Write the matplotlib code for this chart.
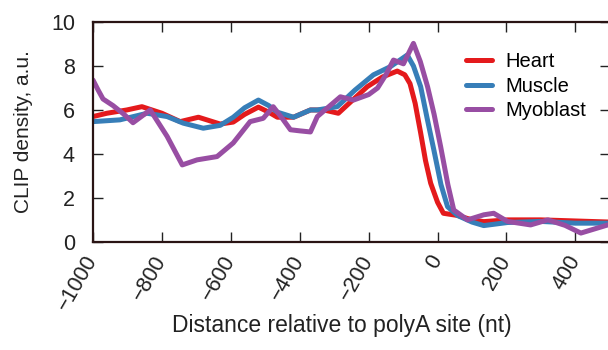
import matplotlib.pyplot as plt
import numpy as np

plt.rcParams['font.family'] = ['Liberation Sans', 'DejaVu Sans']

# Heart
heart_x = [-1000, -960, -902, -858, -800, -747, -694, -631, -593, -560, -520, -490,
           -465, -418, -369, -330, -288, -250, -204, -160, -117, -95, -80, -65, -49,
           -35, -20, 0, 17, 58, 100, 134, 203, 300, 400, 500]
heart_y = [5.7, 5.85, 6.0, 6.15, 5.85, 5.47, 5.67, 5.36, 5.45, 5.8, 6.13, 5.9,
           5.67, 5.67, 6.0, 6.0, 5.85, 6.4, 7.06, 7.5, 7.77, 7.6, 7.2, 6.3, 4.95,
           3.7, 2.67, 1.8, 1.3, 1.2, 1.0, 0.92, 1.0, 1.0, 0.95, 0.9]

# Muscle
muscle_x = [-1000, -922, -843, -785, -738, -680, -631, -593, -560, -520, -490,
            -465, -418, -369, -349, -291, -240, -186, -137, -88, -70, -49, -30,
            -11, 10, 29, 58, 100, 134, 203, 299, 400, 500]
muscle_y = [5.47, 5.55, 5.85, 5.7, 5.4, 5.17, 5.3, 5.67, 6.1, 6.45, 6.2,
            5.9, 5.67, 6.0, 6.0, 6.15, 6.9, 7.6, 7.97, 8.5, 8.0, 7.06, 5.6,
            4.2, 2.6, 1.6, 1.2, 0.9, 0.74, 0.88, 0.93, 0.85, 0.85]

# Myoblast
myo_x = [-1000, -985, -971, -942, -910, -884, -834, -785, -741, -698, -640, -593,
         -544, -506, -477, -450, -427, -400, -369, -349, -282, -244, -200, -174,
         -150, -128, -99, -70, -50, -29, -10, 9, 30, 47, 87, 134, 163, 203,
         270, 320, 370, 416, 494]
myo_y = [7.36, 6.9, 6.5, 6.2, 5.8, 5.42, 6.0, 4.8, 3.5, 3.73, 3.88, 4.5,
         5.47, 5.62, 6.15, 5.6, 5.1, 5.05, 5.0, 5.7, 6.6, 6.45, 6.7, 7.0,
         7.6, 8.27, 8.1, 9.03, 8.2, 7.06, 5.8, 4.33, 2.6, 1.45, 1.0, 1.23, 1.3, 0.93,
         0.77, 1.0, 0.75, 0.4, 0.77]

series = [('Heart', heart_x, heart_y, '#e41a1c'),
          ('Muscle', muscle_x, muscle_y, '#377eb8'),
          ('Myoblast', myo_x, myo_y, '#984ea3')]

fig = plt.figure(figsize=(6.08, 3.5), dpi=100)
ax = fig.add_axes([0.153, 0.309, 0.85, 0.628])

for name, xs, ys, col in series:
    ax.plot(xs, ys, color=col, lw=3.6, label=name, solid_capstyle='round',
            solid_joinstyle='round')

ax.set_xlim(-1000, 500)
ax.set_ylim(0, 10)
ax.set_xticks(np.arange(-1000, 401, 200))
ax.set_yticks(np.arange(0, 11, 2))

for s in ax.spines.values():
    s.set_color('#2a1414')
    s.set_linewidth(1.6)

ax.tick_params(direction='in', length=7, width=1, colors='#222222',
               labelsize=15.5, top=True, right=True)
ax.tick_params(axis='y', pad=13)
ax.tick_params(axis='x', pad=11)
for lab in ax.get_xticklabels():
    lab.set_rotation(60)
    lab.set_ha('right')
    lab.set_va('center')
    lab.set_rotation_mode('anchor')

ax.set_ylabel('CLIP density, a.u.', fontsize=15, color='#222222', labelpad=13)
ax.set_xlabel('Distance relative to polyA site (nt)', fontsize=16.5, color='#222222')
ax.xaxis.set_label_coords(0.482, -0.33)

leg = ax.legend(loc='upper left', bbox_to_anchor=(466 / 608, 1 - 52 / 350),
                bbox_transform=fig.transFigure, frameon=False,
                fontsize=14.5, handlelength=1.3, handletextpad=0.65,
                labelspacing=0.28, borderpad=0, borderaxespad=0)

fig.savefig('out.png', dpi=100)
